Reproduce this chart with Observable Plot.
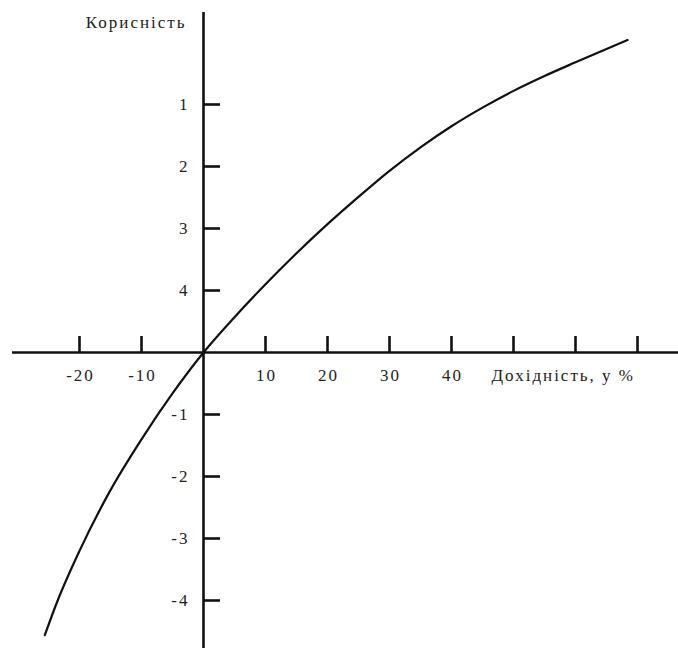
<!DOCTYPE html>
<html>
<head>
<meta charset="utf-8">
<script src="https://cdn.jsdelivr.net/npm/d3@7"></script>
<script src="https://cdn.jsdelivr.net/npm/@observablehq/plot@0.6"></script>
<style>
  html, body { margin: 0; padding: 0; background: #fff; }
  #chart { width: 678px; height: 648px; }
  #chart svg text { letter-spacing: 2px; }
</style>
</head>
<body>
<div id="chart"></div>
<script>
// ---- data ----
const returns = [-25.6, -23.6, -20, -15, -10, -5, 0, 5, 10, 15, 20, 25, 30, 35, 40, 45, 50, 55, 60, 68.4];
const utility = [-4.56, -4.02, -3.20, -2.22, -1.40, -0.66, 0, 0.57, 1.10, 1.60, 2.07, 2.51, 2.93, 3.31, 3.65, 3.95, 4.22, 4.46, 4.68, 5.04];
const xTicks = [-20, -10, 10, 20, 30, 40, 50, 60, 70];
const xTickLabels = ["-20", "-10", "10", "20", "30", "40", "", "", ""];
const yTicks = [-4, -3, -2, -1, 1, 2, 3, 4];
const yTickLabels = ["-4", "-3", "-2", "-1", "4", "3", "2", "1"];
const xTitle = "Дохідність, у %";
const yTitle = "Корисність";

const curve = returns.map((x, i) => ({x, y: utility[i]}));

// ---- layout (pixel geometry) ----
const W = 678, H = 648;
const originX = 203, originY = 352;
const pxPerX = 6.2;   // px per 1 % of return
const pxPerY = 62;    // px per 1 unit of utility
const xDomain = [-originX / pxPerX, (W - originX) / pxPerX];
const yDomain = [-(H - originY) / pxPerY, originY / pxPerY];
const px2x = p => (p - originX) / pxPerX;
const px2y = p => (originY - p) / pxPerY;

const font = "'Liberation Serif', 'Times New Roman', serif";
const ink = "#111";
const txt = "#222";
const fs = 17;

const chart = Plot.plot({
  width: W,
  height: H,
  margin: 0,
  x: {domain: xDomain, axis: null},
  y: {domain: yDomain, axis: null},
  style: {fontFamily: font, background: "#fff"},
  marks: [
    // axes
    Plot.ruleY([0], {x1: px2x(12), x2: px2x(W), stroke: ink, strokeWidth: 2.6}),
    Plot.ruleX([0], {y1: px2y(12), y2: px2y(H), stroke: ink, strokeWidth: 2.6}),
    // x ticks (upwards)
    Plot.ruleX(xTicks, {x: d => d, y1: 0, y2: 16 / pxPerY, stroke: ink, strokeWidth: 2.6}),
    // y ticks (to the right)
    Plot.ruleY(yTicks, {y: d => d, x1: 0, x2: 17 / pxPerX, stroke: ink, strokeWidth: 2.6}),
    // tick labels
    Plot.text(xTicks, {x: d => d, y: 0, text: (d, i) => xTickLabels[i], dy: 23, dx: 1, fontSize: fs, fill: txt, textAnchor: "middle"}),
    Plot.text(yTicks, {x: 0, y: d => d, text: (d, i) => yTickLabels[i], dx: -14, fontSize: fs, fill: txt, textAnchor: "end"}),
    // axis titles
    Plot.text([xTitle], {x: px2x(491), y: 0, text: d => d, dy: 23, fontSize: fs, fill: txt, textAnchor: "start"}),
    Plot.text([yTitle], {x: 0, y: px2y(22), text: d => d, dx: -17, fontSize: fs, fill: txt, textAnchor: "end"}),
    // utility curve
    Plot.line(curve, {x: "x", y: "y", curve: "monotone-x", stroke: ink, strokeWidth: 2.2})
  ]
});
document.getElementById("chart").appendChild(chart);
</script>
</body>
</html>
